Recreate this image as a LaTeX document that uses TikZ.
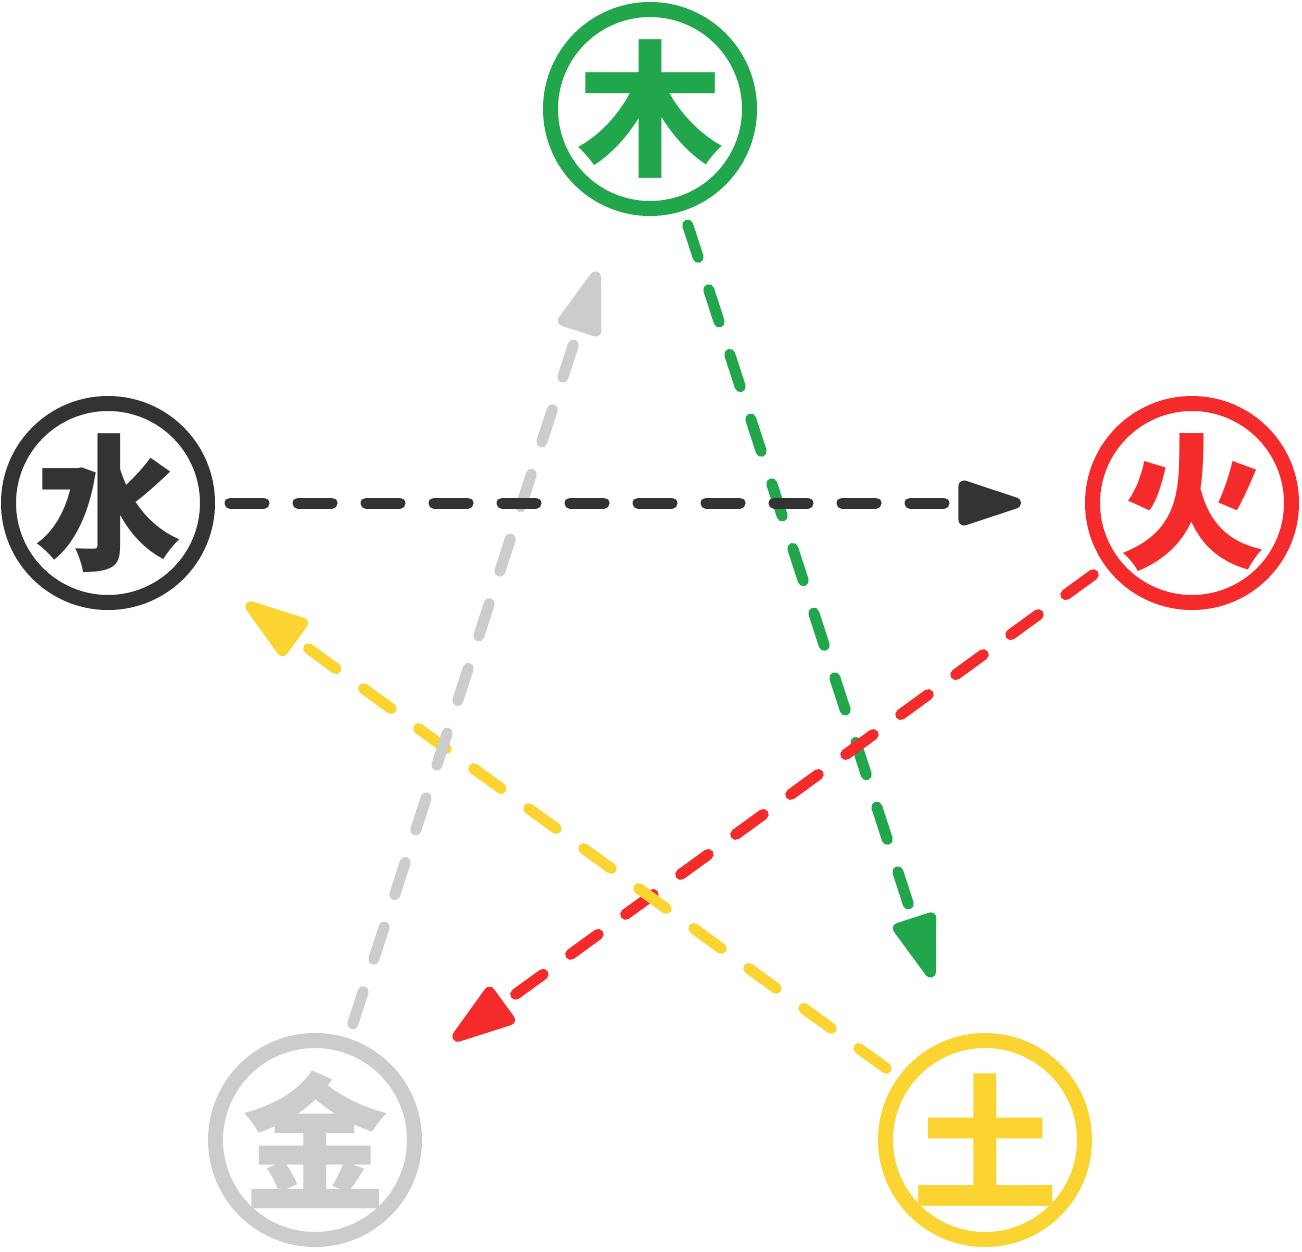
\documentclass[tikz,border=0pt]{standalone}
\usepackage{fontspec}
\newfontfamily\cjk{Noto Sans CJK SC}
\usetikzlibrary{arrows.meta}
\definecolor{wood}{HTML}{21A64C}
\definecolor{fire}{HTML}{F52B2B}
\definecolor{earth}{HTML}{FCD431}
\definecolor{metal}{HTML}{CCCCCC}
\definecolor{water}{HTML}{333333}
\tikzset{
  element/.style={circle,draw=#1,line width=15pt,minimum size=199pt,inner sep=0pt},
  glyph/.style={text=#1,inner sep=0pt,font=\cjk\bfseries\fontsize{146pt}{146pt}\selectfont},
  cycle/.style={draw=#1,line width=11pt,line cap=round,dash pattern=on 34pt off 34pt,
    shorten <=15pt,shorten >=64pt,-{Triangle[length=76pt,width=46pt,round]}}
}
\begin{document}
\begin{tikzpicture}[x=1pt,y=-1pt]
        \useasboundingbox (0,0) rectangle (1302,1252);
        %% Elements
        \node[element=wood]  (mu)   at (650,109)  {};
        \node[element=fire]  (huo)  at (1192,503) {};
        \node[element=earth] (tu)   at (985,1140) {};
        \node[element=metal] (jin)  at (315,1140) {};
        \node[element=water] (shui) at (108,503)  {};
        %% Glyphs
        \node[glyph=wood]  at (mu)   {木};
        \node[glyph=fire]  at (huo)  {火};
        \node[glyph=earth] at (tu)   {土};
        \node[glyph=metal] at (jin)  {金};
        \node[glyph=water] at (shui) {水};
        %% Control cycle
        \draw[cycle=wood]  (mu)   -- (tu);
        \draw[cycle=fire]  (huo)  -- (jin);
        \draw[cycle=earth] (tu)   -- (shui);
        \draw[cycle=metal] (jin)  -- (mu);
        \draw[cycle=water] (shui) -- (huo);
    \end{tikzpicture}
\end{document}
